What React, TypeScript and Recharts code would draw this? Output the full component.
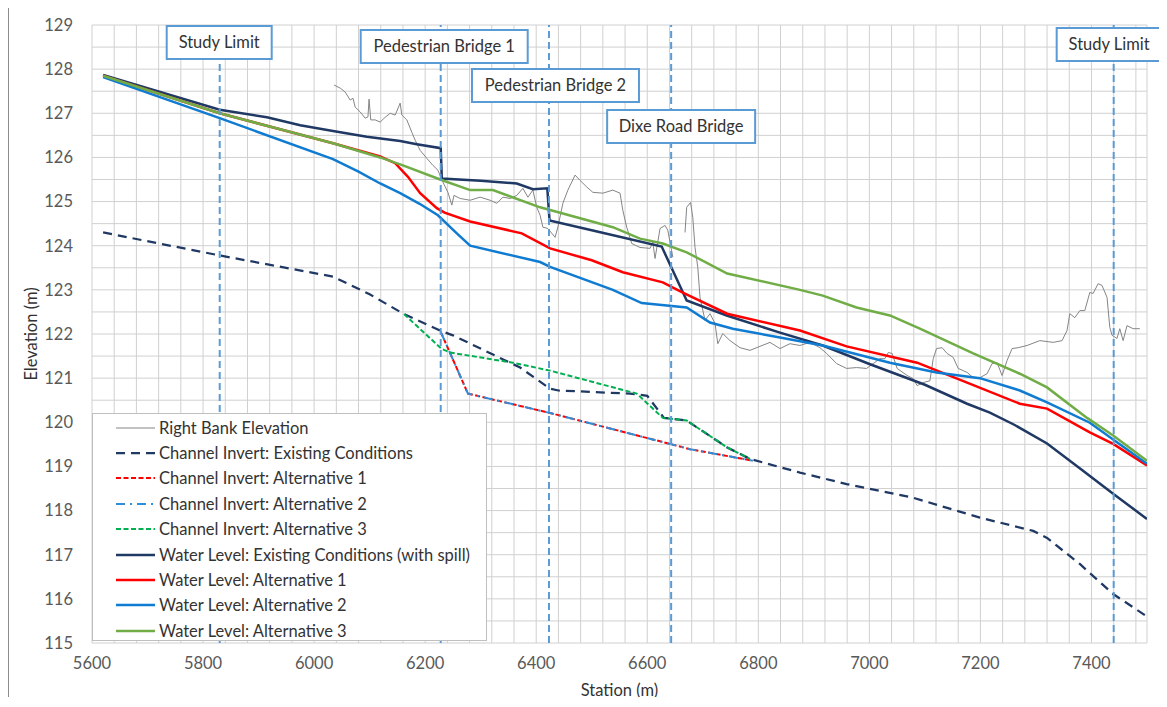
import React from "react";
import {
  LineChart,
  Line,
  XAxis,
  YAxis,
  CartesianGrid,
  ReferenceLine,
  Legend,
} from "recharts";

type Pt = [number, number | null];

const FONT = "Lato, 'Open Sans', sans-serif";
const FS = 16.5;
const TEXT = "#333333";

// axis ticks
const xTicks = [5600, 5800, 6000, 6200, 6400, 6600, 6800, 7000, 7200, 7400];
const yTicks = [115, 116, 117, 118, 119, 120, 121, 122, 123, 124, 125, 126, 127, 128, 129];
const X_MINOR = 40;
const Y_MINOR = 0.5;

// structures along the reach
const structNames = ["Study Limit", "Pedestrian Bridge 1", "Pedestrian Bridge 2", "Dixe Road Bridge", "Study Limit"];
const structStations = [5830, 6228, 6423, 6643, 7440];

// station (m), elevation (m)
const rightBank: Pt[] = [
  [6036, 127.64], [6047, 127.57], [6056, 127.48], [6065, 127.3], [6070, 127.34], [6074, 127.14],
  [6083, 127.03], [6092, 126.89], [6097, 126.92], [6099, 127.32], [6102, 126.85], [6110, 126.85],
  [6119, 126.8], [6128, 126.91], [6137, 127.0], [6146, 126.96], [6155, 127.23], [6158, 126.96],
  [6167, 126.85], [6176, 126.57], [6182, 126.39], [6191, 126.16], [6203, 125.98], [6214, 125.82],
  [6223, 125.71], [6232, 125.44], [6241, 125.21], [6248, 124.92], [6252, 125.14], [6263, 125.07],
  [6281, 125.03], [6299, 125.1], [6317, 125.03], [6329, 124.96], [6340, 125.1], [6353, 125.07],
  [6365, 125.14], [6376, 125.3], [6385, 125.1], [6394, 125.26], [6401, 124.87], [6407, 124.69],
  [6412, 124.42], [6421, 124.39], [6434, 124.19], [6439, 124.42], [6448, 124.96], [6457, 125.26],
  [6470, 125.6], [6479, 125.48], [6491, 125.33], [6502, 125.21], [6520, 125.19], [6538, 125.26],
  [6551, 125.19], [6556, 124.8], [6563, 124.42], [6572, 124.05], [6587, 123.96], [6605, 123.94],
  [6610, 124.08], [6614, 123.71], [6623, 124.39], [6632, 124.46], [6637, 124.35], [6646, 123.74],
  [6657, null],
  [6668, 124.3], [6671, 124.87], [6678, 124.98], [6682, 124.64], [6686, 123.96], [6691, 123.51],
  [6695, 122.83], [6704, 122.31], [6713, 122.46], [6722, 122.24], [6727, 121.78], [6736, 122.01],
  [6749, 121.85], [6767, 121.69], [6785, 121.63], [6803, 121.72], [6821, 121.81], [6839, 121.67],
  [6857, 121.78], [6875, 121.74], [6893, 121.81], [6911, 121.69], [6923, 121.56], [6941, 121.33],
  [6959, 121.22], [6977, 121.24], [6995, 121.22], [7007, 121.33], [7019, 121.44], [7028, 121.44],
  [7034, 121.58], [7041, 121.56], [7050, 121.22], [7068, 121.06], [7079, 120.99], [7086, 120.83],
  [7097, 120.9], [7109, 120.94], [7115, 121.44], [7121, 121.67], [7131, 121.69], [7140, 121.56],
  [7151, 121.47], [7160, 121.22], [7176, 121.13], [7187, 121.01], [7199, 121.01], [7212, 121.1],
  [7221, 121.33], [7230, 121.35], [7239, 121.06], [7248, 121.4], [7257, 121.67], [7268, 121.69],
  [7284, 121.74], [7307, 121.85], [7331, 121.81], [7347, 121.85], [7356, 122.08], [7361, 122.46],
  [7370, 122.37], [7379, 122.53], [7388, 122.53], [7397, 122.94], [7403, 122.92], [7412, 123.14],
  [7419, 123.1], [7428, 122.83], [7433, 122.15], [7437, 121.97], [7446, 121.9], [7451, 122.12],
  [7457, 121.85], [7464, 122.19], [7475, 122.12], [7487, 122.12],
];

const invertExisting: Pt[] = [
  [5620, 124.3], [5830, 123.78], [6034, 123.3], [6100, 122.9], [6162, 122.45], [6228, 122.07],
  [6250, 121.97], [6371, 121.24], [6425, 120.76], [6440, 120.72], [6569, 120.65], [6600, 120.6],
  [6630, 120.1], [6671, 120.04], [6744, 119.43], [6785, 119.17], [6875, 118.86], [6959, 118.6],
  [7079, 118.29], [7199, 117.84], [7295, 117.54], [7320, 117.38], [7379, 116.79], [7439, 116.11],
  [7500, 115.6],
];

const invertAlt1: Pt[] = [
  [6228, 122.05], [6277, 120.65], [6425, 120.21], [6641, 119.51], [6677, 119.39], [6773, 119.17],
  [6790, 119.13],
];

const invertAlt2: Pt[] = [
  [6228, 122.05], [6277, 120.65], [6425, 120.21], [6641, 119.51], [6677, 119.39], [6773, 119.17],
  [6790, 119.13],
];

const invertAlt3: Pt[] = [
  [6162, 122.45], [6229, 121.67], [6245, 121.58], [6358, 121.35], [6425, 121.17], [6581, 120.65],
  [6628, 120.1], [6671, 120.04], [6744, 119.43], [6785, 119.17],
];

const wlExisting: Pt[] = [
  [5620, 127.87], [5830, 127.08], [5915, 126.91], [5975, 126.73], [6034, 126.6], [6095, 126.47],
  [6155, 126.37], [6185, 126.3], [6228, 126.21], [6230, 125.52], [6300, 125.47], [6365, 125.41],
  [6394, 125.28], [6420, 125.3], [6424, 124.57], [6500, 124.35], [6626, 123.98], [6671, 122.76],
  [6743, 122.42], [6839, 122.03], [6916, 121.74], [7000, 121.32], [7100, 120.85], [7176, 120.42],
  [7217, 120.22], [7260, 119.95], [7320, 119.52], [7380, 118.95], [7439, 118.38], [7500, 117.81],
];

const wlAlt1: Pt[] = [
  [5620, 127.85], [5830, 127.0], [6034, 126.32], [6119, 126.02], [6146, 125.87], [6169, 125.56],
  [6191, 125.19], [6221, 124.85], [6235, 124.75], [6281, 124.55], [6374, 124.28], [6425, 123.94],
  [6500, 123.67], [6556, 123.4], [6628, 123.17], [6664, 122.94], [6744, 122.46], [6875, 122.08],
  [6959, 121.72], [7086, 121.35], [7176, 120.9], [7271, 120.42], [7320, 120.31], [7397, 119.77],
  [7439, 119.51], [7500, 119.02],
];

const wlAlt2: Pt[] = [
  [5620, 127.82], [5830, 126.89], [6034, 125.96], [6080, 125.68], [6119, 125.41], [6155, 125.19],
  [6190, 124.95], [6223, 124.69], [6257, 124.28], [6281, 124.0], [6407, 123.63], [6425, 123.52],
  [6538, 123.0], [6590, 122.7], [6671, 122.6], [6713, 122.26], [6754, 122.12], [6839, 121.92],
  [6916, 121.74], [7037, 121.35], [7121, 121.13], [7199, 121.0], [7271, 120.72], [7320, 120.45],
  [7397, 119.99], [7500, 119.06],
];

const wlAlt3: Pt[] = [
  [5620, 127.85], [5830, 127.0], [6034, 126.32], [6119, 126.0], [6160, 125.82], [6227, 125.5],
  [6281, 125.26], [6322, 125.26], [6407, 124.87], [6538, 124.42], [6587, 124.16], [6628, 124.05],
  [6671, 123.85], [6744, 123.37], [6875, 123.0], [6916, 122.87], [6977, 122.6], [7037, 122.42],
  [7091, 122.12], [7187, 121.56], [7271, 121.1], [7320, 120.79], [7392, 120.1], [7439, 119.7],
  [7500, 119.13],
];

const series = [
  { key: "bank", name: "Right Bank Elevation", data: rightBank, color: "#858585", width: 1, dash: undefined },
  { key: "ciEx", name: "Channel Invert: Existing Conditions", data: invertExisting, color: "#1f3864", width: 2.25, dash: "9 6" },
  { key: "ci1", name: "Channel Invert: Alternative 1", data: invertAlt1, color: "#ff0000", width: 2, dash: "5 2.5" },
  { key: "ci2", name: "Channel Invert: Alternative 2", data: invertAlt2, color: "#2e8fd8", width: 2, dash: "9 5 2 5" },
  { key: "ci3", name: "Channel Invert: Alternative 3", data: invertAlt3, color: "#00b050", width: 2, dash: "5 2.5" },
  { key: "wlEx", name: "Water Level: Existing Conditions (with spill)", data: wlExisting, color: "#1f3864", width: 2.5, dash: undefined },
  { key: "wl1", name: "Water Level: Alternative 1", data: wlAlt1, color: "#ff0000", width: 2.5, dash: undefined },
  { key: "wl2", name: "Water Level: Alternative 2", data: wlAlt2, color: "#0f7bd1", width: 2.5, dash: undefined },
  { key: "wl3", name: "Water Level: Alternative 3", data: wlAlt3, color: "#70ad47", width: 2.5, dash: undefined },
];

// annotation box layout (offset from line, top offset, box width)
const structBoxes = [
  { dx: -0.5, top: 0, w: 105 },
  { dx: 3.5, top: 4, w: 167 },
  { dx: 6.5, top: 43, w: 167 },
  { dx: 10, top: 84, w: 148 },
  { dx: -4.5, top: 2, w: 105 },
];

const toRows = (pts: Pt[]) => pts.map(([x, y]) => ({ x, y }));

const steps = (lo: number, hi: number, step: number) => {
  const out: number[] = [];
  for (let v = lo; v <= hi + 1e-9; v += step) out.push(+v.toFixed(3));
  return out;
};

const applyScale = (axis: any, v: number) => {
  const s = axis?.scale;
  if (typeof s === "function") return s(v);
  if (s && typeof s.map === "function") return s.map(v);
  return 0;
};

const StructLabel = (props: any) => {
  const { viewBox, text, dx, top, w } = props;
  const cx = viewBox.x + dx;
  const y = viewBox.y + top;
  return (
    <g>
      <rect x={cx - w / 2} y={y + 1} width={w} height={33} fill="#fff" stroke="#5b9bd5" strokeWidth={2} />
      <text x={cx} y={y + 23} textAnchor="middle" fontFamily={FONT} fontSize={FS} fill={TEXT}>
        {text}
      </text>
    </g>
  );
};

const LegendBox = () => (
  <div
    style={{
      width: 395,
      height: 228,
      boxSizing: "border-box",
      background: "#fff",
      border: "1px solid #bfbfbf",
      paddingTop: 1,
      fontFamily: FONT,
      fontSize: FS,
      color: TEXT,
    }}
  >
    {series.map((s) => (
      <div key={s.key} style={{ display: "flex", alignItems: "center", height: 25.4 }}>
        <svg width={62} height={10} style={{ flex: "none" }}>
          <line x1={23} x2={62} y1={5} y2={5} stroke={s.color} strokeWidth={s.width} strokeDasharray={s.dash} />
        </svg>
        <span style={{ marginLeft: 4, whiteSpace: "nowrap" }}>{s.name}</span>
      </div>
    ))}
  </div>
);

export default function App() {
  const xGrid = steps(5600, 7500, X_MINOR).concat([7500]);
  const yGrid = steps(115, 129, Y_MINOR);

  return (
    <div
      style={{
        position: "relative",
        width: 1158,
        height: 699,
        marginTop: -1,
        marginBottom: -10,
        borderLeft: "1px solid #8c8c8c",
        borderTop: "1px solid #8c8c8c",
        background: "#fff",
      }}
    >
      <LineChart width={1158} height={699} margin={{ top: 17, right: 20, bottom: 0, left: 23 }}>
        <CartesianGrid
          stroke="#d0d0d0"
          strokeWidth={1}
          verticalCoordinatesGenerator={({ xAxis }: any) => xGrid.map((v) => applyScale(xAxis, v))}
          horizontalCoordinatesGenerator={({ yAxis }: any) => yGrid.map((v) => applyScale(yAxis, v))}
        />
        <XAxis
          type="number"
          dataKey="x"
          domain={[5600, 7500]}
          ticks={xTicks}
          allowDataOverflow
          height={64}
          axisLine={false}
          tickLine={false}
          tickSize={0}
          tickMargin={14}
          tick={{ fill: "#595959", fontSize: FS, fontFamily: FONT }}
          label={(p: any) => (
            <text
              x={p.viewBox.x + p.viewBox.width / 2}
              y={p.viewBox.y + 47}
              textAnchor="middle"
              dominantBaseline="central"
              fontFamily={FONT}
              fontSize={FS}
              fill={TEXT}
            >
              Station (m)
            </text>
          )}
        />
        <YAxis
          type="number"
          domain={[115, 129]}
          ticks={yTicks}
          allowDataOverflow
          width={60}
          axisLine={false}
          tickLine={false}
          tickSize={0}
          tickMargin={19}
          tick={{ fill: "#595959", fontSize: FS, fontFamily: FONT }}
          label={(p: any) => {
            const x = p.viewBox.x - 1;
            const y = p.viewBox.y + p.viewBox.height / 2;
            return (
              <text
                x={x}
                y={y}
                transform={`rotate(-90 ${x} ${y})`}
                textAnchor="middle"
                dominantBaseline="central"
                fontFamily={FONT}
                fontSize={FS}
                fill={TEXT}
              >
                Elevation (m)
              </text>
            );
          }}
        />
        {series.map((s) => (
          <Line
            key={s.key}
            data={toRows(s.data)}
            dataKey="y"
            name={s.name}
            type="linear"
            stroke={s.color}
            strokeWidth={s.width}
            strokeDasharray={s.dash}
            dot={false}
            activeDot={false}
            isAnimationActive={false}
          />
        ))}
        {structStations.map((st, i) => (
          <ReferenceLine
            key={`struct-${i}`}
            x={st}
            stroke="#5b9bd5"
            strokeWidth={2}
            strokeDasharray="7 4"
            label={<StructLabel text={structNames[i]} {...structBoxes[i]} />}
          />
        ))}
        <Legend
          layout="vertical"
          align="center"
          verticalAlign="middle"
          content={() => <LegendBox />}
          wrapperStyle={{ left: 83, top: 405, width: 395, height: 228, right: "auto", bottom: "auto" }}
        />
      </LineChart>
    </div>
  );
}
